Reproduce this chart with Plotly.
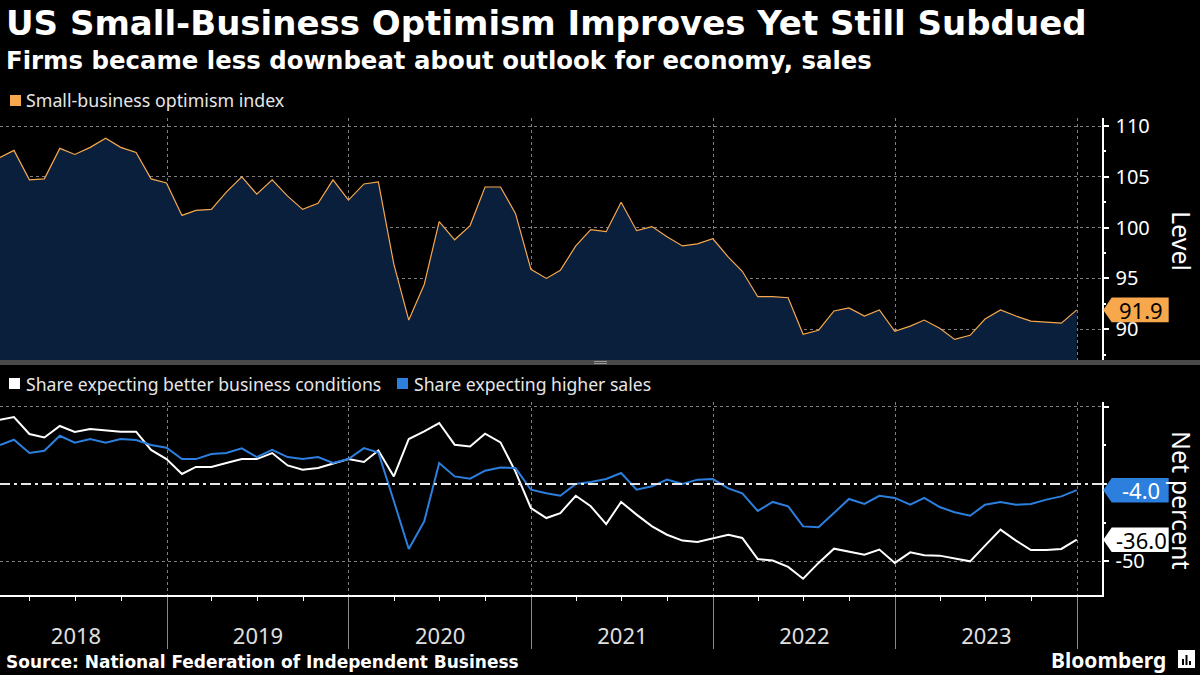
import plotly.graph_objects as go
import pandas as pd

# ---------------- data ----------------
# monthly observations Jan 2018 .. Dec 2023, plotted at month end
dates = list(pd.date_range("2018-02-01", periods=72, freq="MS") - pd.Timedelta(days=1))

optimism = [
    106.9, 107.6, 104.7, 104.8, 107.8, 107.2, 107.9, 108.8, 107.9, 107.4, 104.8, 104.4,
    101.2, 101.7, 101.8, 103.5, 105.0, 103.3, 104.7, 103.1, 101.8, 102.4, 104.7, 102.7,
    104.3, 104.5, 96.4, 90.9, 94.4, 100.6, 98.8, 100.2, 104.0, 104.0, 101.4, 95.9,
    95.0, 95.8, 98.2, 99.8, 99.6, 102.5, 99.7, 100.1, 99.1, 98.2, 98.4, 98.9,
    97.1, 95.7, 93.2, 93.2, 93.1, 89.5, 89.9, 91.8, 92.1, 91.3, 91.9, 89.8,
    90.3, 90.9, 90.1, 89.0, 89.4, 91.0, 91.9, 91.3, 90.8, 90.7, 90.6, 91.9,
]

better_conditions = [
    41.5, 43.3, 32.3, 30.1, 37.5, 33.6, 35.5, 34.4, 33.8, 33.8, 22.0, 16.1,
    6.5, 11.0, 11.0, 13.6, 16.1, 16.1, 20.0, 12.0, 9.2, 10.3, 13.1, 16.1,
    14.2, 21.7, 4.9, 29.1, 34.0, 39.4, 25.4, 24.3, 32.5, 26.9, 8.0, -15.5,
    -22.0, -18.8, -7.6, -14.4, -25.9, -11.6, -19.8, -27.4, -32.8, -36.6, -37.5, -34.9,
    -32.8, -34.9, -48.5, -49.5, -53.6, -61.2, -51.0, -41.8, -43.7, -45.7, -42.4, -51.0,
    -44.2, -46.1, -46.3, -48.3, -50.0, -39.8, -29.5, -36.6, -42.7, -42.7, -42.0, -36.0,
]

higher_sales = [
    25.2, 28.6, 20.0, 21.5, 31.2, 26.7, 29.1, 26.7, 29.1, 28.4, 25.2, 23.5,
    16.1, 16.1, 19.4, 20.0, 23.0, 17.4, 22.0, 17.4, 16.1, 17.4, 13.6, 16.1,
    23.2, 20.4, -11.0, -42.0, -24.1, 13.5, 4.9, 3.4, 8.6, 10.7, 10.3, -3.7,
    -6.0, -7.6, 0.0, 1.3, 3.2, 7.1, -3.7, -1.5, 2.8, 0.0, 2.8, 3.2,
    -2.8, -6.0, -17.4, -11.6, -14.4, -27.4, -28.0, -18.8, -9.7, -12.9, -7.6, -9.0,
    -13.4, -9.0, -14.9, -18.3, -20.5, -13.4, -11.6, -13.4, -12.9, -10.1, -8.0, -4.0,
]

top_ticks = [90, 95, 100, 105, 110]
bottom_ticks = [50, -50]
bottom_tick_text = ["", "-50"]

title = "US Small-Business Optimism Improves Yet Still Subdued"
subtitle = "Firms became less downbeat about outlook for economy, sales"
source = "Source: National Federation of Independent Business"

# ---------------- style ----------------
W, H = 1200, 675
BG = "#000000"
ORANGE = "#f7a84c"
NAVY = "#0a1f3c"
BLUE = "#2d7fde"
WHITE = "#ffffff"
GRID = "rgba(170,170,170,0.75)"
FONT = "Noto Sans"
BOLD_FONT = "DejaVu Sans"

XD = 1101.7 / W                     # right end of plot area
TOP_DOM = [1 - 360 / H, 1 - 118 / H]
BOT_DOM = [1 - 595 / H, 1 - 402 / H]
X_RANGE = ["2018-01-31", "2024-02-19"]


def px(xp):
    return xp / W


def py(yp):
    return 1 - yp / H


fig = go.Figure()

fig.add_trace(go.Scatter(
    x=dates, y=optimism, mode="lines", name="Small-business optimism index",
    line=dict(color=ORANGE, width=1.2), fill="tozeroy", fillcolor=NAVY,
    xaxis="x", yaxis="y", hoverinfo="skip", showlegend=False,
))
fig.add_trace(go.Scatter(
    x=dates, y=better_conditions, mode="lines",
    name="Share expecting better business conditions",
    line=dict(color=WHITE, width=2), xaxis="x2", yaxis="y2",
    hoverinfo="skip", showlegend=False,
))
fig.add_trace(go.Scatter(
    x=dates, y=higher_sales, mode="lines", name="Share expecting higher sales",
    line=dict(color=BLUE, width=2), xaxis="x2", yaxis="y2",
    hoverinfo="skip", showlegend=False,
))

common_x = dict(
    type="date", range=X_RANGE, domain=[0, XD], showgrid=True,
    gridcolor=GRID, griddash="dot", gridwidth=1, dtick="M12",
    tick0="2018-01-01", zeroline=False, automargin=False,
)

fig.update_layout(
    width=W, height=H, paper_bgcolor=BG, plot_bgcolor=BG,
    margin=dict(l=0, r=0, t=0, b=0),
    font=dict(family=FONT, color=WHITE),
    showlegend=False,
    xaxis=dict(**common_x, anchor="y", showticklabels=False, ticks="",
               showline=False),
    xaxis2=dict(**common_x, anchor="y2", matches="x", showline=True,
                linecolor=WHITE, linewidth=1.5, ticks="outside", ticklen=52,
                tickcolor="#8a8a8a", tickwidth=1, ticklabelmode="period",
                tickformat="%Y", tickfont=dict(size=22, color="#e0e0e0"),
                ticklabelstandoff=-31,
                minor=dict(dtick="M3", ticks="outside", ticklen=4,
                           tickcolor=WHITE, tickwidth=1, showgrid=False)),
    yaxis=dict(domain=TOP_DOM, range=[86.97, 110.79], side="right", anchor="x",
               tickvals=top_ticks, showgrid=True, gridcolor=GRID,
               griddash="dot", showline=True, linecolor=WHITE, linewidth=1.5,
               ticks="outside", ticklen=6, tickwidth=2, tickcolor=WHITE,
               tickfont=dict(size=20, color=WHITE), zeroline=False,
               automargin=False, ticklabelstandoff=2,
               minor=dict(dtick=2.5, tick0=0, ticks="outside", ticklen=3,
                          tickcolor=WHITE, showgrid=False)),
    yaxis2=dict(domain=BOT_DOM, range=[-71.75, 53.0], side="right", anchor="x2",
                tickvals=bottom_ticks, ticktext=bottom_tick_text,
                showgrid=True, gridcolor=GRID, griddash="dot", showline=True,
                linecolor=WHITE, linewidth=1.5, ticks="outside", ticklen=6,
                tickwidth=2, tickcolor=WHITE,
                tickfont=dict(size=20, color=WHITE), zeroline=False,
                automargin=False, ticklabelstandoff=2,
                minor=dict(dtick=25, tick0=0, ticks="outside", ticklen=3,
                           tickcolor=WHITE, showgrid=False)),
)

shapes = []
# zero line (dash-dot) in bottom panel
shapes.append(dict(type="line", xref="paper", yref="y2", x0=0, x1=px(1107),
                   y0=0, y1=0, line=dict(color="#e6e6e6", width=2,
                                         dash="10px,4px,3px,4px")))
# panel separator band with handle
shapes.append(dict(type="rect", xref="paper", yref="paper", x0=0, x1=1,
                   y0=py(365), y1=py(360), fillcolor="#4a4a4a", line_width=0))
for yy in (361.5, 363.5):
    shapes.append(dict(type="line", xref="paper", yref="paper", x0=px(594),
                       x1=px(607), y0=py(yy), y1=py(yy),
                       line=dict(color="#9a9a9a", width=1)))
# legend swatches
for (x0, y0, col) in [(10, 95, ORANGE), (9, 378, WHITE), (397, 378, BLUE)]:
    shapes.append(dict(type="rect", xref="paper", yref="paper", x0=px(x0),
                       x1=px(x0 + 11), y0=py(y0 + 11), y1=py(y0),
                       fillcolor=col, line_width=0))

# last-value pointer labels
last_labels = [
    ("y", optimism[-1], f"{optimism[-1]:.1f}", ORANGE, "#000000"),
    ("y2", higher_sales[-1], f"{higher_sales[-1]:.1f}", BLUE, WHITE),
    ("y2", better_conditions[-1], f"{better_conditions[-1]:.1f}", WHITE, "#000000"),
]
annotations = []
for yref, val, txt, bg, fg in last_labels:
    shapes.append(dict(type="path", xref="paper", yref=yref,
                       xsizemode="pixel", ysizemode="pixel",
                       xanchor=XD, yanchor=val,
                       path="M 1.5,0 L 10,12.3 L 67,12.3 L 67,-12.3 L 10,-12.3 Z",
                       fillcolor=bg, line_width=0, layer="above"))
    annotations.append(dict(xref="paper", yref=yref, x=px(1141), y=val,
                            text=txt, showarrow=False, xanchor="center",
                            yanchor="middle",
                            font=dict(size=22, color=fg, family=FONT)))

# Bloomberg logo box
shapes.append(dict(type="rect", xref="paper", yref="paper", x0=px(1178),
                   x1=px(1195), y0=py(668), y1=py(650), fillcolor=WHITE,
                   line_width=0))
for bx, btop in [(1183, 659), (1186.5, 655), (1190, 661)]:
    shapes.append(dict(type="line", xref="paper", yref="paper", x0=px(bx),
                       x1=px(bx), y0=py(665), y1=py(btop),
                       line=dict(color="#000000", width=2)))

annotations += [
    dict(xref="paper", yref="paper", x=px(4), y=py(23), text=f"<b>{title}</b>",
         showarrow=False, xanchor="left", yanchor="middle",
         font=dict(size=34, color=WHITE, family=BOLD_FONT)),
    dict(xref="paper", yref="paper", x=px(4), y=py(60), text=f"<b>{subtitle}</b>",
         showarrow=False, xanchor="left", yanchor="middle",
         font=dict(size=24.4, color=WHITE, family=BOLD_FONT)),
    dict(xref="paper", yref="paper", x=px(24), y=py(100),
         text="Small-business optimism index", showarrow=False,
         xanchor="left", yanchor="middle",
         font=dict(size=17.8, color="#e6e6e6", family=FONT)),
    dict(xref="paper", yref="paper", x=px(24), y=py(383.5),
         text="Share expecting better business conditions", showarrow=False,
         xanchor="left", yanchor="middle",
         font=dict(size=17.6, color="#e6e6e6", family=FONT)),
    dict(xref="paper", yref="paper", x=px(412), y=py(383.5),
         text="Share expecting higher sales", showarrow=False,
         xanchor="left", yanchor="middle",
         font=dict(size=17.6, color="#e6e6e6", family=FONT)),
    dict(xref="paper", yref="paper", x=px(1182), y=py(241), text="Level",
         showarrow=False, textangle=90, xanchor="center", yanchor="middle",
         font=dict(size=25, color=WHITE, family=FONT)),
    dict(xref="paper", yref="paper", x=px(1182), y=py(500), text="Net percent",
         showarrow=False, textangle=90, xanchor="center", yanchor="middle",
         font=dict(size=25, color=WHITE, family=FONT)),
    dict(xref="paper", yref="paper", x=px(4), y=py(662), text=f"<b>{source}</b>",
         showarrow=False, xanchor="left", yanchor="middle",
         font=dict(size=17, color=WHITE, family=BOLD_FONT)),
    dict(xref="paper", yref="paper", x=px(1168), y=py(660), text="<b>Bloomberg</b>",
         showarrow=False, xanchor="right", yanchor="middle",
         font=dict(size=21, color=WHITE, family=FONT)),
]

fig.update_layout(shapes=shapes, annotations=annotations)
fig.write_html(
    "out.html",
    config={"displayModeBar": False},
    post_script="document.body.style.margin='0px';document.body.style.overflow='hidden';",
)
